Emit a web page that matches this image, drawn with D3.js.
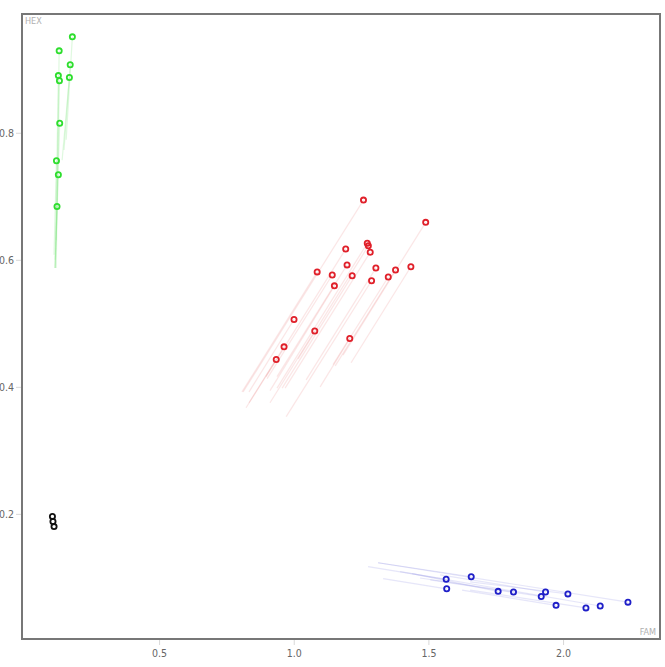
<!DOCTYPE html>
<html>
<head>
<meta charset="utf-8">
<script src="https://cdn.jsdelivr.net/npm/d3@7"></script>
<style>
  body { margin: 0; background: #fff; }
  svg { display: block; }
</style>
</head>
<body>
<script>
const width = 665;
const height = 667;
const margin = {top: 14, right: 5, bottom: 28, left: 22};

// groups
const groups = ["green", "red", "blue", "black"];
const groupColors = {green: "#2ede2e", red: "#e0202a", blue: "#1f1fc8", black: "#111111"};
const trailColors = {green: "#7fe87f", red: "#f09a9a", blue: "#9a9ae6", black: "#999999"};

// current positions (FAM, HEX)
const greenFam = [0.178, 0.129, 0.170, 0.126, 0.130, 0.167, 0.131, 0.119, 0.126, 0.121];
const greenHex = [0.951, 0.929, 0.907, 0.890, 0.882, 0.887, 0.815, 0.756, 0.734, 0.684];
// trail start positions
const greenFam0 = [0.155, 0.118, 0.147, 0.114, 0.118, 0.140, 0.114, 0.110, 0.114, 0.114];
const greenHex0 = [0.789, 0.587, 0.773, 0.587, 0.631, 0.757, 0.600, 0.608, 0.587, 0.587];

const redFam = [1.259, 1.490, 1.193, 1.273, 1.277, 1.284, 1.198, 1.305, 1.378, 1.435, 1.087,
                1.143, 1.217, 1.351, 1.289, 1.151, 1.001, 1.078, 1.208, 0.964, 0.935];
const redHex = [0.694, 0.659, 0.617, 0.626, 0.622, 0.612, 0.592, 0.587, 0.584, 0.589, 0.581,
                0.576, 0.575, 0.573, 0.567, 0.559, 0.506, 0.488, 0.476, 0.463, 0.443];
const redFam0 = [0.812, 1.183, 0.897, 0.938, 1.016, 0.968, 0.938, 1.046, 1.154, 1.213, 0.808,
                 0.901, 0.957, 1.146, 0.972, 0.912, 0.834, 0.912, 1.098, 0.834, 0.823];
const redHex0 = [0.392, 0.450, 0.416, 0.398, 0.444, 0.398, 0.416, 0.411, 0.433, 0.438, 0.392,
                 0.413, 0.398, 0.435, 0.353, 0.394, 0.392, 0.375, 0.400, 0.375, 0.367];

const blueFam = [1.566, 1.568, 1.659, 1.759, 1.816, 1.919, 1.935, 1.974, 2.018, 2.085, 2.138, 2.241];
const blueHex = [0.097, 0.082, 0.101, 0.078, 0.077, 0.070, 0.077, 0.056, 0.074, 0.052, 0.055, 0.061];
const blueFam0 = [1.276, 1.332, 1.313, 1.440, 1.469, 1.507, 1.544, 1.625, 1.655, 1.655, 1.395, 1.313];
const blueHex0 = [0.117, 0.098, 0.123, 0.106, 0.099, 0.096, 0.104, 0.080, 0.093, 0.080, 0.109, 0.123];

const blackFam = [0.104, 0.106, 0.110];
const blackHex = [0.196, 0.188, 0.180];

const xTicks = [0.5, 1.0, 1.5, 2.0];
const yTicks = [0.2, 0.4, 0.6, 0.8];

function buildPoints(group, fam, hex, fam0, hex0) {
      return fam.map((f, i) => ({
            group: group,
            fam: f,
            hex: hex[i],
            fam0: fam0 ? fam0[i] : null,
            hex0: hex0 ? hex0[i] : null
      }));
}

const points = [].concat(
      buildPoints("green", greenFam, greenHex, greenFam0, greenHex0),
      buildPoints("red", redFam, redHex, redFam0, redHex0),
      buildPoints("blue", blueFam, blueHex, blueFam0, blueHex0),
      buildPoints("black", blackFam, blackHex)
);

const svg = d3.select("body")
      .append("svg")
      .attr("width", width)
      .attr("height", height);

const innerW = width - margin.left - margin.right;
const innerH = height - margin.top - margin.bottom;

const xScale = d3.scaleLinear()
      .domain([-0.009, 2.360])
      .range([margin.left, margin.left + innerW]);

const yScale = d3.scaleLinear()
      .domain([0.003, 0.987])
      .range([margin.top + innerH, margin.top]);

const font = "'DejaVu Sans Condensed', 'DejaVu Sans', sans-serif";

// axes
const xAxis = svg.append("g")
      .attr("transform", `translate(0, ${margin.top + innerH})`)
      .call(d3.axisBottom(xScale).tickValues(xTicks).tickFormat(d3.format(".1f")).tickSize(6).tickPadding(5));

const yAxis = svg.append("g")
      .attr("transform", `translate(${margin.left}, 0)`)
      .call(d3.axisLeft(yScale).tickValues(yTicks).tickFormat(d3.format(".1f")).tickSize(6).tickPadding(2));

[xAxis, yAxis].forEach(ax => {
      ax.select(".domain").remove();
      ax.selectAll(".tick line").attr("stroke", "#d8d8d8");
      ax.selectAll(".tick text")
            .attr("fill", "#666")
            .style("font-family", font)
            .style("font-size", "10.5px");
});

// trails
svg.append("g")
      .selectAll("line")
      .data(points.filter(d => d.fam0 !== null))
      .enter()
      .append("line")
      .attr("x1", d => xScale(d.fam0))
      .attr("y1", d => yScale(d.hex0))
      .attr("x2", d => xScale(d.fam))
      .attr("y2", d => yScale(d.hex))
      .attr("stroke", d => trailColors[d.group])
      .attr("stroke-opacity", 0.25)
      .attr("stroke-width", 1.2);

// points
svg.append("g")
      .selectAll("circle")
      .data(points)
      .enter()
      .append("circle")
      .attr("cx", d => xScale(d.fam))
      .attr("cy", d => yScale(d.hex))
      .attr("r", 2.6)
      .attr("fill", "none")
      .attr("stroke", d => groupColors[d.group])
      .attr("stroke-width", 1.8);

// frame
svg.append("rect")
      .attr("x", margin.left)
      .attr("y", margin.top)
      .attr("width", innerW)
      .attr("height", innerH)
      .attr("fill", "none")
      .attr("stroke", "#777")
      .attr("stroke-width", 2);

// axis labels
svg.append("text")
      .attr("x", margin.left + 3)
      .attr("y", margin.top + 10)
      .attr("fill", "#b0b0b0")
      .style("font-family", font)
      .style("font-size", "9px")
      .text("HEX");

svg.append("text")
      .attr("x", margin.left + innerW - 4)
      .attr("y", margin.top + innerH - 4)
      .attr("text-anchor", "end")
      .attr("fill", "#b0b0b0")
      .style("font-family", font)
      .style("font-size", "9px")
      .text("FAM");
</script>
</body>
</html>
